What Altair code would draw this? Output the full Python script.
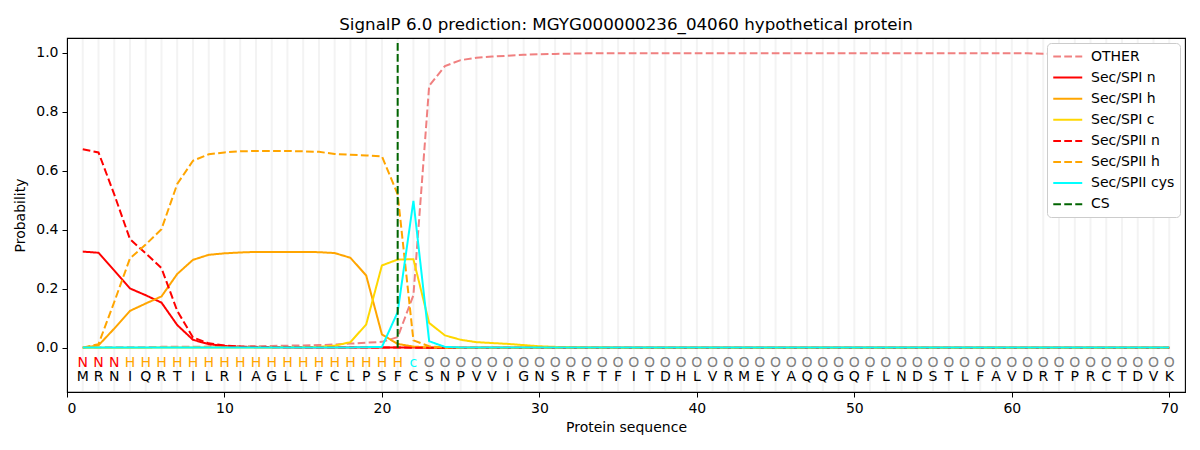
import altair as alt
import pandas as pd

TITLE = "SignalP 6.0 prediction: MGYG000000236_04060 hypothetical protein"

sequence = list("MRNIQRTILRIAGLLFCLPSFCSNPVVIGNSRFTFITDHLVRMEYAQQGQFLNDSTLFAVDRTPRCTDVK")
region_labels = list("NNN" + "H" * 18 + "c" + "O" * 48)

series_names = ["OTHER", "Sec/SPI n", "Sec/SPI h", "Sec/SPI c",
                "Sec/SPII n", "Sec/SPII h", "Sec/SPII cys", "CS"]

other = [0.001, 0.001, 0.002, 0.002, 0.002, 0.003, 0.003, 0.003, 0.004, 0.004,
         0.005, 0.005, 0.006, 0.007, 0.008, 0.009, 0.011, 0.014, 0.017, 0.020,
         0.036, 0.178, 0.888, 0.955, 0.975, 0.983, 0.987, 0.990, 0.993, 0.995,
         0.996, 0.997, 0.998, 0.998, 0.998, 0.998, 0.998, 0.998, 0.998, 0.998,
         0.998, 0.998, 0.998, 0.998, 0.998, 0.998, 0.998, 0.998, 0.998, 0.998,
         0.998, 0.998, 0.998, 0.998, 0.998, 0.998, 0.998, 0.998, 0.998, 0.998,
         0.998, 0.997, 0.997, 0.998, 0.998, 0.998, 0.999, 0.999, 0.999, 0.999]
sec_spi_n = [0.326, 0.322, 0.262, 0.201, 0.178, 0.153, 0.077, 0.027, 0.012, 0.006,
             0.003, 0.002, 0.002, 0.001, 0.001, 0.001, 0.001, 0.001, 0.001, 0.001,
             0.001, 0.001, 0.0, 0.0, 0.0, 0.0, 0.0, 0.0, 0.0, 0.0,
             0.0, 0.0, 0.0, 0.0, 0.0, 0.0, 0.0, 0.0, 0.0, 0.0,
             0.0, 0.0, 0.0, 0.0, 0.0, 0.0, 0.0, 0.0, 0.0, 0.0,
             0.0, 0.0, 0.0, 0.0, 0.0, 0.0, 0.0, 0.0, 0.0, 0.0,
             0.0, 0.0, 0.0, 0.0, 0.0, 0.0, 0.0, 0.0, 0.0, 0.0]
sec_spi_h = [0.0, 0.008, 0.065, 0.125, 0.150, 0.174, 0.250, 0.298, 0.315, 0.320,
             0.323, 0.325, 0.325, 0.325, 0.325, 0.324, 0.321, 0.305, 0.245, 0.045,
             0.013, 0.004, 0.001, 0.0, 0.0, 0.0, 0.0, 0.0, 0.0, 0.0,
             0.0, 0.0, 0.0, 0.0, 0.0, 0.0, 0.0, 0.0, 0.0, 0.0,
             0.0, 0.0, 0.0, 0.0, 0.0, 0.0, 0.0, 0.0, 0.0, 0.0,
             0.0, 0.0, 0.0, 0.0, 0.0, 0.0, 0.0, 0.0, 0.0, 0.0,
             0.0, 0.0, 0.0, 0.0, 0.0, 0.0, 0.0, 0.0, 0.0, 0.0]
sec_spi_c = [0.0, 0.0, 0.0, 0.0, 0.0, 0.001, 0.001, 0.001, 0.001, 0.001,
             0.001, 0.001, 0.001, 0.002, 0.002, 0.003, 0.007, 0.019, 0.079, 0.279,
             0.299, 0.300, 0.084, 0.042, 0.027, 0.019, 0.016, 0.013, 0.009, 0.005,
             0.003, 0.002, 0.001, 0.001, 0.0, 0.0, 0.0, 0.0, 0.0, 0.0,
             0.0, 0.0, 0.0, 0.0, 0.0, 0.0, 0.0, 0.0, 0.0, 0.0,
             0.0, 0.0, 0.0, 0.0, 0.0, 0.0, 0.0, 0.0, 0.0, 0.0,
             0.0, 0.0, 0.0, 0.0, 0.0, 0.0, 0.0, 0.0, 0.0, 0.0]
sec_spii_n = [0.673, 0.662, 0.520, 0.368, 0.320, 0.270, 0.125, 0.035, 0.015, 0.008,
              0.004, 0.003, 0.002, 0.002, 0.001, 0.001, 0.001, 0.001, 0.001, 0.001,
              0.001, 0.0, 0.0, 0.0, 0.0, 0.0, 0.0, 0.0, 0.0, 0.0,
              0.0, 0.0, 0.0, 0.0, 0.0, 0.0, 0.0, 0.0, 0.0, 0.0,
              0.0, 0.0, 0.0, 0.0, 0.0, 0.0, 0.0, 0.0, 0.0, 0.0,
              0.0, 0.0, 0.0, 0.0, 0.0, 0.0, 0.0, 0.0, 0.0, 0.0,
              0.0, 0.0, 0.0, 0.0, 0.0, 0.0, 0.0, 0.0, 0.0, 0.0]
sec_spii_h = [0.0, 0.012, 0.155, 0.303, 0.350, 0.402, 0.555, 0.634, 0.656, 0.662,
              0.666, 0.667, 0.667, 0.667, 0.666, 0.664, 0.657, 0.654, 0.652, 0.649,
              0.520, 0.025, 0.005, 0.001, 0.0, 0.0, 0.0, 0.0, 0.0, 0.0,
              0.0, 0.0, 0.0, 0.0, 0.0, 0.0, 0.0, 0.0, 0.0, 0.0,
              0.0, 0.0, 0.0, 0.0, 0.0, 0.0, 0.0, 0.0, 0.0, 0.0,
              0.0, 0.0, 0.0, 0.0, 0.0, 0.0, 0.0, 0.0, 0.0, 0.0,
              0.0, 0.0, 0.0, 0.0, 0.0, 0.0, 0.0, 0.0, 0.0, 0.0]
sec_spii_cys = [0.001, 0.001, 0.001, 0.001, 0.001, 0.001, 0.001, 0.001, 0.001, 0.001,
                0.001, 0.001, 0.001, 0.001, 0.001, 0.001, 0.001, 0.001, 0.002, 0.003,
                0.121, 0.498, 0.022, 0.003, 0.001, 0.001, 0.001, 0.001, 0.001, 0.001,
                0.001, 0.001, 0.001, 0.001, 0.001, 0.001, 0.001, 0.001, 0.001, 0.001,
                0.001, 0.001, 0.001, 0.001, 0.001, 0.001, 0.001, 0.001, 0.001, 0.001,
                0.001, 0.001, 0.001, 0.001, 0.001, 0.001, 0.001, 0.001, 0.001, 0.001,
                0.001, 0.001, 0.001, 0.001, 0.001, 0.001, 0.001, 0.001, 0.001, 0.001]
cs_position = 21
cs_top = 1.035

series_values = [other, sec_spi_n, sec_spi_h, sec_spi_c,
                 sec_spii_n, sec_spii_h, sec_spii_cys]

series_colors = ["#f08080", "#ff0000", "#ffa500", "#ffd700",
                 "#ff0000", "#ffa500", "#00ffff", "#006400"]
dash = [7.7, 3.3]
series_dashes = [dash, [1, 0], [1, 0], [1, 0], dash, dash, [1, 0], dash]
label_colors = {"N": "#ff0000", "H": "#ffa500", "c": "#00ffff", "O": "#808080"}

Y_MIN, Y_MAX = -0.15, 1.05

positions = list(range(1, len(sequence) + 1))

rows = []
for name, vals in zip(series_names, series_values):
    for p, v in zip(positions, vals):
        rows.append({"pos": p, "prob": v, "series": name})
lines_df = pd.DataFrame(rows)

seq_df = pd.DataFrame({
    "pos": positions,
    "residue": sequence,
    "label": region_labels,
    "label_color": [label_colors[c] for c in region_labels],
    "y_label": [-0.05] * len(positions),
    "y_res": [-0.10] * len(positions),
    "g0": [Y_MIN + 0.003] * len(positions),
    "g1": [Y_MAX - 0.003] * len(positions),
})
cs_df = pd.DataFrame({"pos": [cs_position], "y": [0.0], "y2": [cs_top], "series": ["CS"]})

FONT = "DejaVu Sans"

x_scale = alt.Scale(domain=[0, 71], nice=False, zero=False)
y_scale = alt.Scale(domain=[Y_MIN, Y_MAX], nice=False, zero=False)

x_axis = alt.Axis(values=[0, 10, 20, 30, 40, 50, 60, 70], title="Protein sequence",
                  grid=False, format="d")
y_axis = alt.Axis(values=[0.0, 0.2, 0.4, 0.6, 0.8, 1.0], title="Probability",
                  grid=False, format=".1f")

color_scale = alt.Scale(domain=series_names, range=series_colors)
dash_scale = alt.Scale(domain=series_names, range=series_dashes)

legend = alt.Legend(
    title=None, orient="none", legendX=980, legendY=5,
    fillColor="white", strokeColor="#cccccc", cornerRadius=4, padding=5,
    symbolType="M-1,0H3", symbolSize=210, symbolStrokeWidth=2,
    labelFont=FONT, labelFontSize=14, labelColor="black",
    labelOffset=22, rowPadding=5.1, labelLimit=300,
)

grid = alt.Chart(seq_df).mark_rule(color="#f3f3f3", strokeWidth=2).encode(
    x=alt.X("pos:Q", scale=x_scale, axis=x_axis),
    y=alt.Y("g0:Q", scale=y_scale, axis=y_axis),
    y2="g1:Q",
)

lines = alt.Chart(lines_df).mark_line(strokeWidth=2).encode(
    x=alt.X("pos:Q", scale=x_scale, axis=x_axis),
    y=alt.Y("prob:Q", scale=y_scale, axis=y_axis),
    color=alt.Color("series:N", scale=color_scale, legend=legend, sort=series_names),
    strokeDash=alt.StrokeDash("series:N", scale=dash_scale, legend=legend, sort=series_names),
    detail="series:N",
)

cs_rule = alt.Chart(cs_df).mark_rule(strokeWidth=2).encode(
    x=alt.X("pos:Q", scale=x_scale),
    y=alt.Y("y:Q", scale=y_scale),
    y2="y2:Q",
    color=alt.Color("series:N", scale=color_scale, legend=legend, sort=series_names),
    strokeDash=alt.StrokeDash("series:N", scale=dash_scale, legend=legend, sort=series_names),
)

label_text = alt.Chart(seq_df).mark_text(font=FONT, fontSize=14, baseline="middle", align="center").encode(
    x=alt.X("pos:Q", scale=x_scale),
    y=alt.Y("y_label:Q", scale=y_scale),
    text="label:N",
    fill=alt.Fill("label_color:N", scale=None, legend=None),
)

res_text = alt.Chart(seq_df).mark_text(font=FONT, fontSize=14, baseline="middle", align="center",
                                       color="black").encode(
    x=alt.X("pos:Q", scale=x_scale),
    y=alt.Y("y_res:Q", scale=y_scale),
    text="residue:N",
)

chart = alt.layer(grid, lines, cs_rule, label_text, res_text).properties(
    width=1118, height=354,
    title=alt.TitleParams(TITLE, font=FONT, fontSize=16.7, fontWeight="normal", color="black",
                          anchor="middle", baseline="alphabetic", offset=9, dy=18, frame="group"),
    autosize=alt.AutoSizeParams(type="none"),
    padding={"left": 59, "top": 30, "right": 5, "bottom": 50},
).configure_view(
    stroke="black", strokeWidth=1.1
).configure_axis(
    labelFont=FONT, labelFontSize=14, labelColor="black",
    titleFont=FONT, titleFontSize=14, titleColor="black", titleFontWeight="normal",
    domainColor="black", tickColor="black", tickSize=5, labelPadding=4,
).configure_axisY(titlePadding=8).configure_axisX(titlePadding=5)

chart.save("out.html", embed_options={"renderer": "svg", "actions": False})
